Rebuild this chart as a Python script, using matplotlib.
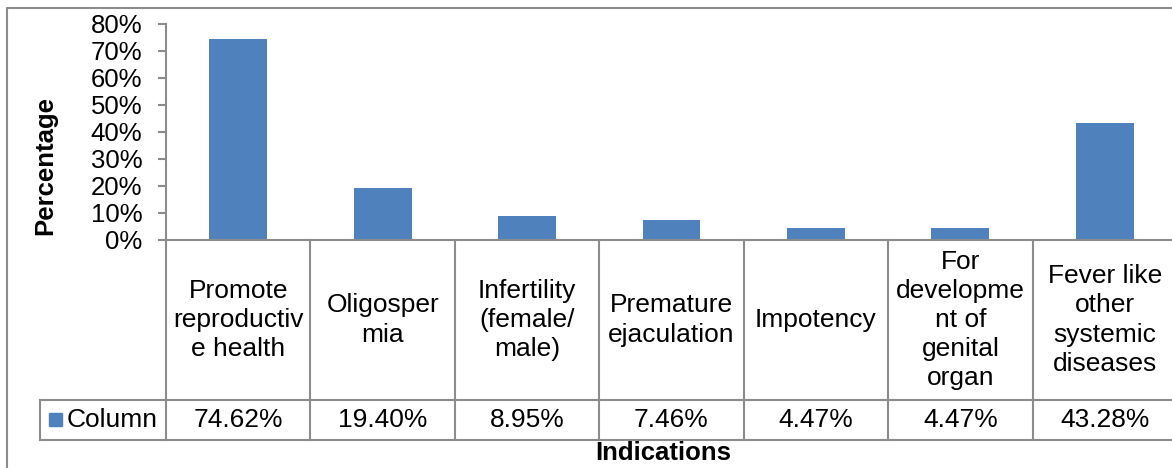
import numpy as np
import matplotlib.pyplot as plt
from matplotlib.lines import Line2D
from matplotlib.patches import Rectangle
from matplotlib.ticker import MultipleLocator, PercentFormatter
from matplotlib.transforms import blended_transform_factory

plt.rcParams['font.family'] = ['Liberation Sans', 'DejaVu Sans']

categories = ['Promote\nreproductiv\ne health', 'Oligosper\nmia',
              'Infertility\n(female/\nmale)', 'Premature\nejaculation',
              'Impotency', 'For\ndevelopme\nnt of\ngenital\norgan',
              'Fever like\nother\nsystemic\ndiseases']
values = [74.62, 19.40, 8.95, 7.46, 4.47, 4.47, 43.28]
series_name = 'Column'

W, H = 1172, 468
bar_color = '#4F81BD'
grid_color = '#8C8C8C'
fs = 18.5
fs_tab = 19

def fy(y):
    return 1 - y / H

fig = plt.figure(figsize=(W / 100, H / 100), dpi=100)
ax = fig.add_axes([166 / W, fy(240), (1177 - 166) / W, (240 - 24) / H])

x = np.arange(len(values))
ax.bar(x, values, width=0.4, color=bar_color)
ax.set_xlim(-0.5, len(values) - 0.5)
ax.set_ylim(0, 80)
ax.yaxis.set_major_locator(MultipleLocator(10))
ax.yaxis.set_major_formatter(PercentFormatter(decimals=0))
ax.set_xticks([])
for s in ['top', 'right']:
    ax.spines[s].set_visible(False)
for s in ['left', 'bottom']:
    ax.spines[s].set_color(grid_color)
    ax.spines[s].set_linewidth(1.5)
ax.tick_params(axis='y', length=6, width=1.5, color=grid_color,
               labelsize=fs, pad=11)

fig.text(45 / W, fy(165), 'Percentage', rotation=90, fontsize=fs,
         fontweight='bold', ha='center', va='center')

# data table under the axis
tr = blended_transform_factory(ax.transData, fig.transFigure)
lw = 1.5
bounds = np.arange(len(values) + 1) - 0.5
for b in bounds:
    fig.add_artist(Line2D([b, b], [fy(240), fy(440)], transform=tr,
                          color=grid_color, lw=lw, clip_on=False))
for yy in [400, 440]:
    fig.add_artist(Line2D([40 / W, 1], [fy(yy), fy(yy)],
                          transform=fig.transFigure, color=grid_color, lw=lw))
fig.add_artist(Line2D([40 / W, 40 / W], [fy(400), fy(440)],
                      transform=fig.transFigure, color=grid_color, lw=lw))

for i, (c, v) in enumerate(zip(categories, values)):
    fig.text(i, fy(320), c, transform=tr, ha='center', va='center',
             fontsize=fs_tab, linespacing=1.27, multialignment='center')
    fig.text(i, fy(420), f'{v:.2f}%', transform=tr, ha='center',
             va='center', fontsize=fs_tab)

fig.add_artist(Rectangle((49 / W, fy(426)), 13 / W, 13 / H,
                         transform=fig.transFigure, color=bar_color))
fig.text(67 / W, fy(420), series_name, ha='left', va='center', fontsize=fs_tab)

fig.text(663 / W, fy(453), 'Indications', ha='center', va='center',
         fontsize=fs, fontweight='bold')

# chart border
fig.add_artist(Line2D([7 / W, 7 / W, 1], [0, fy(8), fy(8)],
                      transform=fig.transFigure, color=grid_color, lw=1.5))

fig.savefig('out.png', dpi=100)
